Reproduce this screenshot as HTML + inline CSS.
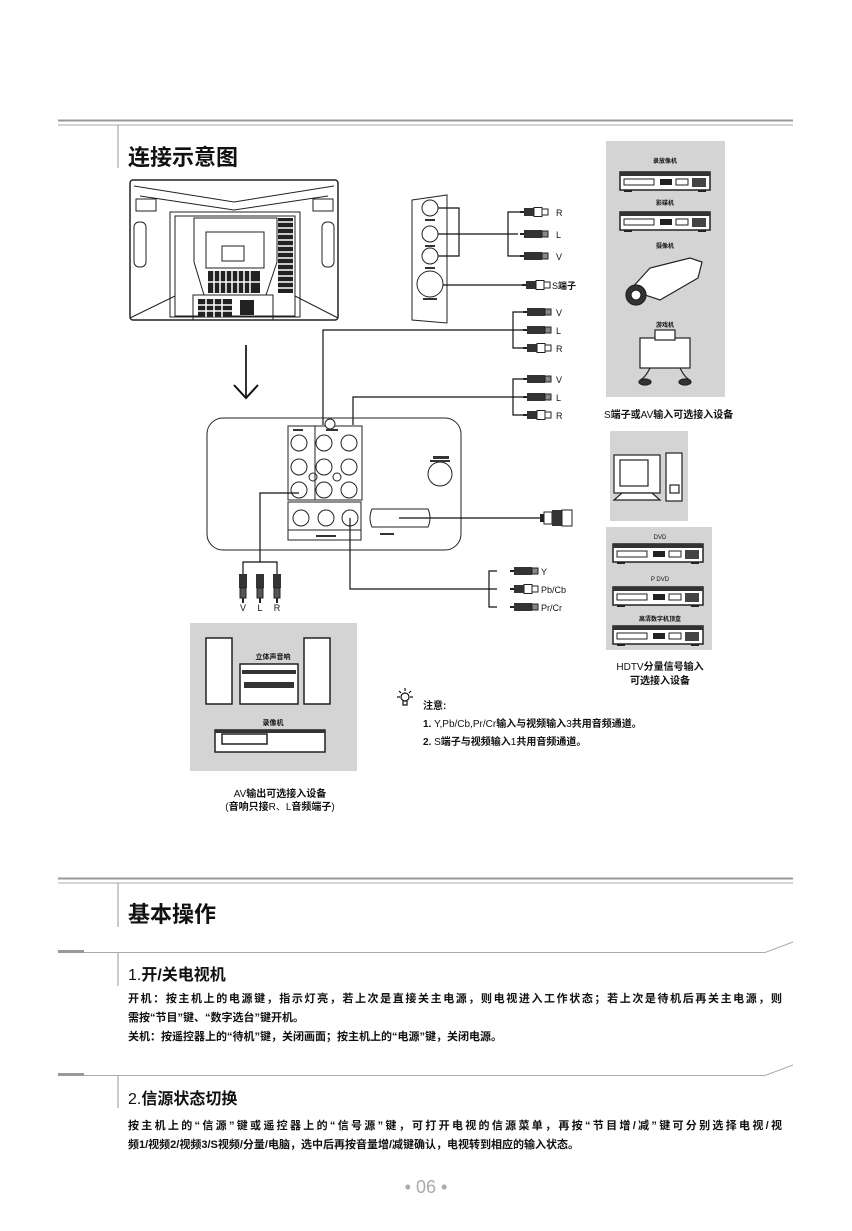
<!DOCTYPE html>
<html><head><meta charset="utf-8"><style>
html,body{margin:0;padding:0;background:#fff;}
svg{display:block;}
text{font-family:"Liberation Sans","Noto Sans CJK SC",sans-serif;fill:#111;}
.b{font-weight:bold;}
</style></head><body>
<svg width="852" height="1231" viewBox="0 0 852 1231" xmlns="http://www.w3.org/2000/svg">
<defs>
<g id="plug">
<rect x="0" y="-1" width="4" height="2" fill="#222"/>
<rect x="4" y="-4" width="10" height="8" fill="#333"/>
<rect x="14" y="-4.5" width="8" height="9" fill="#fff" stroke="#222" stroke-width="1"/>
<rect x="22" y="-3" width="6" height="6" fill="#fff" stroke="#222" stroke-width="1"/>
</g>
<g id="plugd">
<rect x="0" y="-1" width="4" height="2" fill="#222"/>
<rect x="4" y="-4" width="18" height="8" fill="#333"/>
<rect x="22" y="-3" width="6" height="6" fill="#888" stroke="#222" stroke-width="1"/>
</g>
<g id="plugv">
<rect x="-4" y="0" width="8" height="14" fill="#333"/>
<rect x="-3" y="14" width="6" height="10" fill="#555" stroke="#222"/>
<rect x="-1" y="24" width="2" height="5" fill="#222"/>
</g>
<g id="deck">
<rect x="0" y="0" width="90" height="18" fill="#fff" stroke="#222" stroke-width="1.5"/>
<rect x="0" y="0" width="90" height="4" fill="#333"/>
<rect x="4" y="7" width="30" height="6" fill="none" stroke="#222"/>
<rect x="40" y="7" width="12" height="6" fill="#222"/>
<rect x="56" y="7" width="12" height="6" fill="none" stroke="#222"/>
<rect x="72" y="6" width="14" height="9" fill="#444"/>
<rect x="4" y="18" width="8" height="2" fill="#222"/><rect x="78" y="18" width="8" height="2" fill="#222"/>
</g>
</defs>

<!-- top rule -->
<line x1="58" y1="120.5" x2="793" y2="120.5" stroke="#999" stroke-width="2"/>
<line x1="58" y1="125" x2="793" y2="125" stroke="#aaa" stroke-width="1"/>
<line x1="118" y1="125" x2="118" y2="168" stroke="#999" stroke-width="1"/>
<text x="128" y="165" font-size="22" class="b">连接示意图</text>

<!-- TV back -->
<g stroke="#222" fill="none" stroke-width="1">
<rect x="130" y="180" width="208" height="140" rx="3" stroke-width="1.5"/>
<path d="M134 186 L234 202 L334 186"/><path d="M140 196 L234 210 L328 196"/>
<rect x="136" y="199" width="20" height="12"/><rect x="313" y="199" width="20" height="12"/>
<rect x="134" y="222" width="12" height="45" rx="5"/><rect x="322" y="222" width="12" height="45" rx="5"/>
<rect x="170" y="212" width="130" height="105"/>
<rect x="175" y="216" width="120" height="100"/>
<path d="M194 218 L277 218 L277 262 L266 295 L204 295 L194 262 Z"/>
<path d="M206 232 L264 232 L264 268 L206 268 Z"/>
<rect x="222" y="246" width="22" height="15"/>
<rect x="193" y="295" width="80" height="25"/>
<line x1="130" y1="318" x2="175" y2="296"/><line x1="338" y1="318" x2="295" y2="296"/>
</g>
<g fill="#222">
<rect x="178" y="218" width="15" height="75" fill="url(#none)"/>
<rect x="278" y="218" width="15" height="75"/>
<rect x="208" y="271" width="52" height="22"/>
<rect x="198" y="299" width="34" height="18"/>
<rect x="240" y="300" width="14" height="15"/>
</g>
<g stroke="#fff" stroke-width="1.5">
<path d="M178 222h15M178 228h15M178 234h15M178 240h15M178 246h15M178 252h15M178 258h15M178 264h15M178 270h15M178 276h15M178 282h15M178 288h15"/>
<path d="M278 222h15M278 228h15M278 234h15M278 240h15M278 246h15M278 252h15M278 258h15M278 264h15M278 270h15M278 276h15M278 282h15M278 288h15"/>
<path d="M214 271v22M220 271v22M226 271v22M232 271v22M238 271v22M244 271v22M250 271v22M208 282h52"/>
<path d="M198 305h34M198 311h34M206 299v18M214 299v18M222 299v18"/>
</g>

<!-- arrow -->
<line x1="246" y1="345" x2="246" y2="398" stroke="#333" stroke-width="2"/>
<path d="M234 385 L246 398 L258 385" fill="none" stroke="#111" stroke-width="2"/>

<!-- side panel -->
<g stroke="#222" fill="none" stroke-width="1">
<path d="M412 200 L447 195 L447 323 L412 320 Z"/>
<circle cx="430" cy="208" r="8"/><circle cx="430" cy="234" r="8"/><circle cx="430" cy="256" r="8"/>
<circle cx="430" cy="284" r="13"/>
</g>
<g fill="#333" font-size="4"><rect x="425" y="219" width="10" height="2"/><rect x="425" y="245" width="10" height="2"/><rect x="425" y="267" width="10" height="2"/><rect x="423" y="298" width="14" height="2"/></g>
<g stroke="#111" stroke-width="1.2" fill="none">
<path d="M438 208 H459 V256 H438"/><path d="M438 234 H518"/>
<path d="M530 212 H508 V256 H530"/>
<path d="M443 285 H522"/>
<path d="M523 312 H513 V348 H523"/><path d="M323 425 V330 H523"/>
<path d="M523 379 H513 V415 H523"/><path d="M353 425 V397 H523"/>
</g>
<use href="#plug" x="520" y="212"/><use href="#plugd" x="520" y="234"/><use href="#plugd" x="520" y="256"/>
<use href="#plug" x="522" y="285"/>
<use href="#plugd" x="523" y="312"/><use href="#plugd" x="523" y="330"/><use href="#plug" x="523" y="348"/>
<use href="#plugd" x="523" y="379"/><use href="#plugd" x="523" y="397"/><use href="#plug" x="523" y="415"/>
<g font-size="9">
<text x="556" y="216">R</text><text x="556" y="238">L</text><text x="556" y="260">V</text>
<text x="552" y="289">S<tspan class="b">端子</tspan></text>
<text x="556" y="316">V</text><text x="556" y="334">L</text><text x="556" y="352">R</text>
<text x="556" y="383">V</text><text x="556" y="401">L</text><text x="556" y="419">R</text>
</g>

<!-- right top device box -->
<rect x="606" y="141" width="119" height="256" fill="#d4d4d4"/>
<g font-size="6" class="b" text-anchor="middle"><text x="665" y="163">录放像机</text><text x="665" y="205">影碟机</text><text x="665" y="248">摄像机</text><text x="665" y="327">游戏机</text></g>
<use href="#deck" x="620" y="172"/>
<use href="#deck" x="620" y="212"/>
<g stroke="#222" fill="#fff" stroke-width="1.2">
<path d="M630 290 L650 268 L690 258 L702 262 L698 278 L660 300 Z"/>
<circle cx="636" cy="295" r="10" fill="#333"/><circle cx="636" cy="295" r="5" fill="#fff"/>
<rect x="640" y="338" width="50" height="30" fill="#fff"/><rect x="655" y="330" width="20" height="10"/>
<path d="M650 368 q-5 10 -10 12 M680 368 q5 10 10 12" fill="none"/>
<ellipse cx="645" cy="382" rx="6" ry="3" fill="#333"/><ellipse cx="685" cy="382" rx="6" ry="3" fill="#333"/>
</g>
<text x="604" y="418" font-size="10">S<tspan class="b">端子或</tspan>AV<tspan class="b">输入可选接入设备</tspan></text>

<!-- main panel -->
<rect x="207" y="418" width="254" height="132" rx="16" fill="none" stroke="#222" stroke-width="1"/>
<g stroke="#222" fill="none" stroke-width="1">
<rect x="288" y="426" width="27" height="74"/><rect x="315" y="426" width="47" height="74"/>
<circle cx="330" cy="424" r="5" fill="#fff"/>
<circle cx="299" cy="443" r="8"/><circle cx="299" cy="467" r="8"/><circle cx="299" cy="490" r="8"/>
<circle cx="324" cy="443" r="8"/><circle cx="324" cy="467" r="8"/><circle cx="324" cy="490" r="8"/>
<circle cx="349" cy="443" r="8"/><circle cx="349" cy="467" r="8"/><circle cx="349" cy="490" r="8"/>
<circle cx="313" cy="477" r="4"/><circle cx="337" cy="477" r="4"/>
<rect x="288" y="502" width="73" height="38"/><line x1="288" y1="530" x2="361" y2="530"/>
<circle cx="301" cy="518" r="8"/><circle cx="326" cy="518" r="8"/><circle cx="350" cy="518" r="8"/>
<path d="M372 509 Q368 518 372 527 H428 Q432 518 428 509 Z"/>
<circle cx="440" cy="474" r="12"/>
</g>
<g fill="#333"><rect x="293" y="429" width="10" height="2"/><rect x="326" y="429" width="12" height="2"/><rect x="316" y="535" width="20" height="2"/><rect x="380" y="533" width="14" height="2"/><rect x="433" y="456" width="16" height="3"/><rect x="430" y="460" width="20" height="2"/></g>

<!-- cables from panel -->
<g stroke="#111" stroke-width="1.2" fill="none">
<path d="M399 518 H540"/>
<path d="M350 518 V589 H497"/>
<path d="M497 571 H489 V607 H497"/>
<path d="M299 493 H260 V562"/>
<path d="M243 575 V562 H277 V575"/>
</g>
<rect x="540" y="514" width="4" height="8" fill="#222"/><rect x="544" y="512" width="8" height="12" fill="#fff" stroke="#222"/><rect x="552" y="510" width="10" height="16" fill="#333"/><rect x="562" y="510" width="10" height="16" fill="#fff" stroke="#222"/>
<use href="#plugd" x="510" y="571"/><use href="#plug" x="510" y="589"/><use href="#plugd" x="510" y="607"/>
<g font-size="9"><text x="541" y="575">Y</text><text x="541" y="593">Pb/Cb</text><text x="541" y="611">Pr/Cr</text></g>
<use href="#plugv" x="243" y="574"/><use href="#plugv" x="260" y="574"/><use href="#plugv" x="277" y="574"/>
<g font-size="9" text-anchor="middle"><text x="243" y="611">V</text><text x="260" y="611">L</text><text x="277" y="611">R</text></g>

<!-- right lower boxes -->
<rect x="610" y="431" width="78" height="90" fill="#d4d4d4"/>
<g stroke="#222" fill="#fff" stroke-width="1.2">
<rect x="614" y="455" width="46" height="38"/><rect x="620" y="460" width="28" height="26"/>
<path d="M622 493 L652 493 L660 500 L614 500 Z"/>
<rect x="666" y="453" width="16" height="48"/><rect x="670" y="485" width="9" height="8"/>
</g>
<rect x="606" y="527" width="106" height="123" fill="#d4d4d4"/>
<g font-size="6" text-anchor="middle"><text x="660" y="539">DVD</text><text x="660" y="581">P DVD</text><text x="660" y="621" class="b">高清数字机顶盒</text></g>
<use href="#deck" x="613" y="544"/><use href="#deck" x="613" y="587"/><use href="#deck" x="613" y="626"/>
<g font-size="10" text-anchor="middle"><text x="660" y="670">HDTV<tspan class="b">分量信号输入</tspan></text><text x="660" y="684" class="b">可选接入设备</text></g>

<!-- bottom-left box -->
<rect x="190" y="623" width="167" height="148" fill="#d4d4d4"/>
<g stroke="#222" fill="#fff" stroke-width="1.5">
<rect x="206" y="638" width="26" height="66"/><rect x="304" y="638" width="26" height="66"/>
<rect x="240" y="664" width="58" height="40"/>
<rect x="215" y="730" width="110" height="22"/><rect x="222" y="734" width="45" height="10" fill="none"/>
</g>
<g fill="#333"><rect x="242" y="670" width="54" height="4"/><rect x="244" y="682" width="50" height="6"/><rect x="215" y="730" width="110" height="3"/></g>
<g font-size="7" class="b" text-anchor="middle"><text x="273" y="659">立体声音响</text><text x="273" y="725">录像机</text></g>
<g font-size="10" text-anchor="middle"><text x="280" y="797">AV<tspan class="b">输出可选接入设备</tspan></text><text x="280" y="810">(<tspan class="b">音响只接</tspan>R、L<tspan class="b">音频端子</tspan>)</text></g>

<!-- note -->
<g stroke="#111" stroke-width="1.2" fill="none">
<circle cx="405" cy="697" r="4"/><path d="M403 701 v4 h4 v-4"/>
<path d="M405 688v3M397 697h3M410 697h3M399 691l2 2M411 691l-2 2"/>
</g>
<g font-size="10" class="b"><text x="423" y="709">注意:</text>
<text x="423" y="727">1. <tspan font-weight="normal">Y,Pb/Cb,Pr/Cr</tspan>输入与视频输入<tspan font-weight="normal">3</tspan>共用音频通道。</text>
<text x="423" y="745">2. <tspan font-weight="normal">S</tspan>端子与视频输入<tspan font-weight="normal">1</tspan>共用音频通道。</text></g>

<!-- section 2 -->
<line x1="58" y1="878.5" x2="793" y2="878.5" stroke="#999" stroke-width="2"/>
<line x1="58" y1="883" x2="793" y2="883" stroke="#aaa" stroke-width="1"/>
<line x1="118" y1="883" x2="118" y2="927" stroke="#999"/>
<text x="128" y="922" font-size="22" class="b">基本操作</text>

<line x1="58" y1="951.5" x2="84" y2="951.5" stroke="#999" stroke-width="3"/>
<path d="M84 952.5 H765 L793 942" stroke="#aaa" fill="none"/>
<line x1="118" y1="953" x2="118" y2="986" stroke="#999"/>
<text x="128" y="980" font-size="16">1.<tspan class="b">开/关电视机</tspan></text>
<g font-size="11" class="b">
<text x="128" y="1002" textLength="654">开机：按主机上的电源键，指示灯亮，若上次是直接关主电源，则电视进入工作状态；若上次是待机后再关主电源，则</text>
<text x="128" y="1021">需按“节目”键、“数字选台”键开机。</text>
<text x="128" y="1040">关机：按遥控器上的“待机”键，关闭画面；按主机上的“电源”键，关闭电源。</text>
</g>

<line x1="58" y1="1074.5" x2="84" y2="1074.5" stroke="#999" stroke-width="3"/>
<path d="M84 1075.5 H765 L793 1065" stroke="#aaa" fill="none"/>
<line x1="118" y1="1076" x2="118" y2="1108" stroke="#999"/>
<text x="128" y="1104" font-size="16">2.<tspan class="b">信源状态切换</tspan></text>
<g font-size="11" class="b">
<text x="128" y="1129" textLength="654">按主机上的“信源”键或遥控器上的“信号源”键，可打开电视的信源菜单，再按“节目增/减”键可分别选择电视/视</text>
<text x="128" y="1148">频1/视频2/视频3/S视频/分量/电脑，选中后再按音量增/减键确认，电视转到相应的输入状态。</text>
</g>

<text x="426" y="1193" font-size="18" text-anchor="middle" style="fill:#aaa">• 06 •</text>
</svg>
</body></html>
